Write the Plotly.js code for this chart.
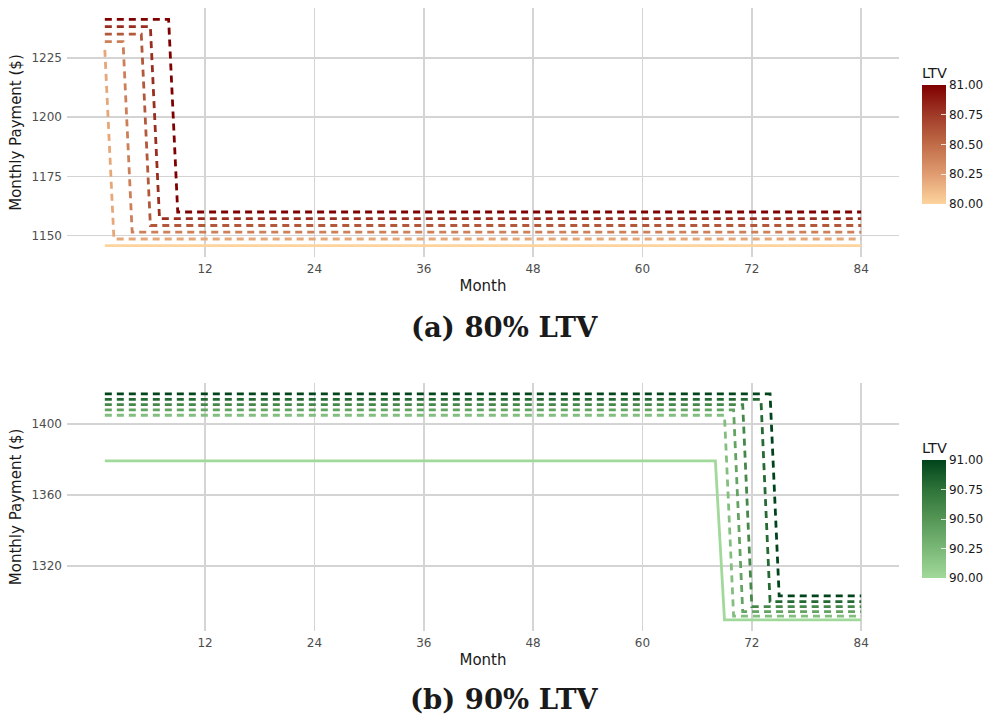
<!DOCTYPE html>
<html>
<head>
<meta charset="utf-8">
<script src="https://cdn.plot.ly/plotly-3.0.1.min.js"></script>
<style>html,body{margin:0;padding:0;background:#fff;}#chart{width:989px;height:717px;}</style>
</head>
<body>
<div id="chart"></div>
<script>
// ---- Data: (a) 80% LTV ----
const ltvA = [80.0, 80.2, 80.4, 80.6, 80.8, 81.0];
const monthsA = [
  [1, 84],
  [1, 2, 84],
  [1, 3, 4, 84],
  [1, 5, 6, 84],
  [1, 6, 7, 84],
  [1, 8, 9, 84]
];
const paymentA = [
  [1145.8, 1145.8],
  [1228.4, 1148.6, 1148.6],
  [1231.9, 1231.9, 1151.5, 1151.5],
  [1235.1, 1235.1, 1154.3, 1154.3],
  [1238.2, 1238.2, 1157.2, 1157.2],
  [1241.3, 1241.3, 1160.0, 1160.0]
];
// ---- Data: (b) 90% LTV ----
const ltvB = [90.0, 90.2, 90.4, 90.6, 90.8, 91.0];
const monthsB = [
  [1, 68, 69, 84],
  [1, 69, 70, 84],
  [1, 70, 71, 84],
  [1, 71, 72, 84],
  [1, 73, 74, 84],
  [1, 74, 75, 84]
];
const paymentB = [
  [1379.2, 1379.2, 1289.6, 1289.6],
  [1404.9, 1404.9, 1291.8, 1291.8],
  [1407.9, 1407.9, 1294.3, 1294.3],
  [1410.9, 1410.9, 1297.1, 1297.1],
  [1413.9, 1413.9, 1299.9, 1299.9],
  [1416.9, 1416.9, 1303.1, 1303.1]
];
const monthTicks = [12, 24, 36, 48, 60, 72, 84];
const yTicksA = [1150, 1175, 1200, 1225];
const yTicksB = [1320, 1360, 1400];
const cbTicksA = [80, 80.25, 80.5, 80.75, 81];
const cbTicksB = [90, 90.25, 90.5, 90.75, 91];

const scaleA = [[0,'#FDD49E'],[0.25,'#E09C70'],[0.5,'#C06C48'],[0.75,'#A03A28'],[1,'#7F0000']];
const scaleB = [[0,'#A1D99B'],[0.25,'#7AB877'],[0.5,'#559656'],[0.75,'#2E7339'],[1,'#00441B']];

function hex2rgb(h){return [parseInt(h.slice(1,3),16),parseInt(h.slice(3,5),16),parseInt(h.slice(5,7),16)];}
function colorAt(scale, t){
  for(let i=1;i<scale.length;i++){
    if(t<=scale[i][0]+1e-9){
      const a=scale[i-1], b=scale[i];
      const f=(t-a[0])/(b[0]-a[0]);
      const ca=hex2rgb(a[1]), cb=hex2rgb(b[1]);
      return 'rgb('+ca.map((v,k)=>Math.round(v+(cb[k]-v)*f)).join(',')+')';
    }
  }
  return scale[scale.length-1][1];
}

const traces = [];
function addSeries(ltv, months, pay, scale, lo, hi, xa, ya){
  ltv.forEach((l, i) => {
    traces.push({
      type:'scatter', mode:'lines', x: months[i], y: pay[i], xaxis: xa, yaxis: ya,
      line:{color: colorAt(scale,(l-lo)/(hi-lo)), width:2.8, dash: i===0 ? 'solid' : '7px,5px'},
      showlegend:false, hoverinfo:'skip'
    });
  });
}
addSeries(ltvA, monthsA, paymentA, scaleA, 80, 81, 'x', 'y');
addSeries(ltvB, monthsB, paymentB, scaleB, 90, 91, 'x2', 'y2');
// colorbar carriers
traces.push({type:'scatter', mode:'markers', x:[null,null], y:[null,null], xaxis:'x', yaxis:'y',
  marker:{color:[80,81], coloraxis:'coloraxis'}, showlegend:false, hoverinfo:'skip'});
traces.push({type:'scatter', mode:'markers', x:[null,null], y:[null,null], xaxis:'x2', yaxis:'y2',
  marker:{color:[90,91], coloraxis:'coloraxis2'}, showlegend:false, hoverinfo:'skip'});

const W=989, H=717;
const px = v => v/W, py = v => 1 - v/H;
const tickFont = {family:'DejaVu Sans', size:12, color:'#4D4D4D'};
const titleFont = {family:'DejaVu Sans', size:15, color:'#1a1a1a'};
const grid = '#d4d4d4';

function xaxisDef(){
  return {domain:[px(67), px(899)], range:[-3.15, 88.15], tickvals: monthTicks, ticks:'', showline:false,
    zeroline:false, gridcolor:grid, gridwidth:1.6, tickfont:tickFont, ticklabelstandoff:3,
    title:{text:'Month', font:titleFont, standoff:5}, automargin:false};
}
function yaxisDef(domain, range, ticks, anchor){
  return {domain:domain, range:range, tickvals: ticks, ticks:'', showline:false, anchor:anchor,
    zeroline:false, gridcolor:grid, gridwidth:1.6, tickfont:tickFont, ticklabelstandoff:4,
    title:{text:'Monthly Payment ($)', font:titleFont, standoff:6}, automargin:false};
}
function colorbarDef(top, bottom, vals){
  return {thickness:24, thicknessmode:'pixels', len:bottom-top+20, lenmode:'pixels',
    x:px(922), xanchor:'left', y:py(bottom), yanchor:'bottom', xpad:0, ypad:0,
    outlinewidth:0, tickvals: vals, tickformat:'.2f', ticks:'inside', ticklen:5, tickcolor:'rgba(255,255,255,0.8)',
    tickfont:{family:'DejaVu Sans', size:12, color:'#1a1a1a'},
    title:{text:'LTV', side:'top', font:{family:'DejaVu Sans', size:14.5, color:'#1a1a1a'}}};
}

const layout = {
  width:W, height:H, margin:{l:0, r:0, t:0, b:0},
  paper_bgcolor:'#fff', plot_bgcolor:'#fff', showlegend:false,
  xaxis: Object.assign(xaxisDef(), {anchor:'y'}),
  yaxis: yaxisDef([py(257), py(8)], [1141.0, 1246.1], yTicksA, 'x'),
  xaxis2: Object.assign(xaxisDef(), {anchor:'y2'}),
  yaxis2: yaxisDef([py(631.3), py(382.6)], [1283.2, 1423.3], yTicksB, 'x2'),
  coloraxis: {cmin:80, cmax:81, colorscale: scaleA, colorbar: colorbarDef(84, 204, cbTicksA)},
  coloraxis2: {cmin:90, cmax:91, colorscale: scaleB, colorbar: colorbarDef(459, 578, cbTicksB)},
  annotations: [
    {text:'<b>(a) 80% LTV</b>', xref:'paper', yref:'paper', x:px(504), y:py(327), xanchor:'center', yanchor:'middle',
     showarrow:false, borderpad:0, font:{family:'DejaVu Serif', size:27.5, color:'#1a1a1a'}},
    {text:'<b>(b) 90% LTV</b>', xref:'paper', yref:'paper', x:px(504), y:py(699), xanchor:'center', yanchor:'middle',
     showarrow:false, borderpad:0, font:{family:'DejaVu Serif', size:27.5, color:'#1a1a1a'}}
  ]
};

Plotly.newPlot('chart', traces, layout, {displayModeBar:false, staticPlot:true});
</script>
</body>
</html>
